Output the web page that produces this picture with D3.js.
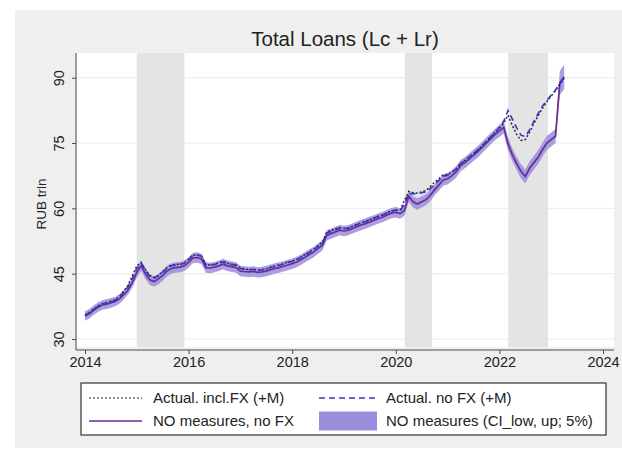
<!DOCTYPE html>
<html>
<head>
<meta charset="utf-8">
<script src="https://cdn.jsdelivr.net/npm/d3@7"></script>
<style>
	body { margin: 0; background: #fff; }
	svg { display: block; font-family: "Liberation Sans", Arial, sans-serif; }
</style>
</head>
<body>
<div id="chart"></div>
<script>
// monthly, 2014m1 .. 2023m4
var startYear = 2014;

var actualInclFX = [
	35.5, 36.1, 36.9, 37.6, 38.1, 38.4, 38.7, 39.0, 39.8, 41.0, 42.4, 44.6,
	46.8, 47.6, 46.0, 44.6, 44.1, 44.6, 45.5, 46.4, 47.0, 47.1, 47.2, 47.5,
	48.3, 49.3, 49.3, 49.0, 47.1, 47.0, 47.2, 47.5, 47.8, 47.4, 47.2, 47.0,
	46.3, 46.1, 45.9, 46.0, 45.8, 45.9, 46.1, 46.5, 46.8, 47.0, 47.3, 47.7,
	47.9, 48.3, 48.8, 49.4, 50.0, 50.6, 51.4, 52.2, 54.6, 54.9, 55.3, 55.6,
	55.4, 55.5, 55.9, 56.3, 56.7, 57.0, 57.4, 57.8, 58.2, 58.5, 59.0, 59.4,
	59.6, 59.6, 61.8, 63.9, 63.6, 63.5, 63.8, 64.1, 65.0, 66.0, 66.8, 67.7,
	67.8, 68.3, 69.1, 70.3, 71.0, 71.8, 72.6, 73.4, 74.4, 75.4, 76.4, 77.5,
	78.4, 79.5, 81.4, 79.0, 77.0, 75.6, 75.8, 77.5, 79.5, 81.3, 83.0, 84.5,
	85.8, 87.0, 88.5, 89.8
];

var actualNoFX = [
	35.5, 36.0, 36.8, 37.5, 38.0, 38.3, 38.6, 38.9, 39.6, 40.7, 42.0, 44.0,
	46.2, 47.4, 45.8, 44.4, 44.0, 44.5, 45.3, 46.2, 46.8, 47.0, 47.1, 47.4,
	48.2, 49.2, 49.3, 49.0, 47.0, 46.9, 47.1, 47.4, 47.7, 47.3, 47.1, 46.9,
	46.2, 46.0, 45.9, 46.0, 45.8, 45.9, 46.1, 46.4, 46.7, 46.9, 47.2, 47.6,
	47.8, 48.2, 48.7, 49.3, 49.9, 50.5, 51.3, 52.0, 54.3, 54.7, 55.1, 55.5,
	55.3, 55.5, 55.9, 56.3, 56.7, 57.0, 57.4, 57.8, 58.2, 58.5, 59.0, 59.4,
	59.6, 59.4, 61.0, 63.5, 63.3, 63.4, 63.6, 63.8, 64.5, 65.5, 66.4, 67.4,
	67.6, 68.2, 69.0, 70.3, 71.0, 71.8, 72.6, 73.4, 74.4, 75.4, 76.4, 77.4,
	78.6, 80.0, 82.5, 80.5, 78.5, 76.8, 76.5, 78.0, 80.0, 81.8, 83.5, 84.8,
	86.0, 87.2, 88.6, 90.0
];

var noMeasures = [
	35.3, 35.8, 36.6, 37.3, 37.8, 38.0, 38.3, 38.6, 39.2, 40.2, 41.3, 43.0,
	45.3, 46.8, 45.0, 43.6, 43.2, 43.8, 44.6, 45.6, 46.2, 46.4, 46.5, 46.8,
	47.6, 48.6, 48.7, 48.4, 46.4, 46.3, 46.5, 46.8, 47.2, 46.8, 46.6, 46.4,
	45.6, 45.5, 45.4, 45.5, 45.3, 45.4, 45.6, 45.9, 46.2, 46.4, 46.7, 47.0,
	47.3, 47.7, 48.2, 48.8, 49.4, 50.0, 50.8, 51.5, 53.8, 54.2, 54.6, 55.0,
	54.8, 55.0, 55.4, 55.8, 56.2, 56.5, 56.9, 57.3, 57.7, 58.0, 58.5, 58.9,
	59.1, 58.8, 59.5, 62.8, 61.5, 61.0, 61.5, 62.0, 63.0, 64.3, 65.4, 66.5,
	66.8, 67.5, 68.4, 69.8, 70.5, 71.3, 72.2, 73.0, 74.0, 75.0, 76.0, 77.0,
	77.8, 78.6, 74.8, 72.3, 70.3, 68.5, 67.3, 69.2, 70.5, 71.8, 73.5, 75.0,
	75.8, 76.6, 88.8, 90.2
];

var ciLow = [
	34.2, 34.7, 35.5, 36.2, 36.7, 36.9, 37.2, 37.5, 38.1, 39.1, 40.2, 41.9,
	44.1, 45.6, 43.8, 42.4, 42.0, 42.6, 43.4, 44.4, 45.0, 45.2, 45.3, 45.6,
	46.4, 47.4, 47.5, 47.2, 45.2, 45.1, 45.3, 45.6, 46.0, 45.6, 45.4, 45.2,
	44.4, 44.3, 44.2, 44.3, 44.1, 44.2, 44.4, 44.7, 45.0, 45.2, 45.5, 45.8,
	46.1, 46.5, 47.0, 47.6, 48.2, 48.8, 49.6, 50.3, 52.6, 53.0, 53.4, 53.8,
	53.6, 53.8, 54.2, 54.6, 55.0, 55.3, 55.7, 56.1, 56.5, 56.8, 57.3, 57.7,
	57.9, 57.6, 58.3, 61.5, 60.2, 59.7, 60.2, 60.7, 61.7, 63.0, 64.1, 65.2,
	65.5, 66.2, 67.1, 68.5, 69.2, 70.0, 70.9, 71.7, 72.7, 73.7, 74.7, 75.7,
	76.4, 77.2, 73.3, 70.8, 68.8, 66.9, 65.7, 67.6, 68.9, 70.2, 71.9, 73.4,
	74.2, 75.0, 86.0, 87.4
];

var ciHigh = [
	36.4, 36.9, 37.7, 38.4, 38.9, 39.1, 39.4, 39.7, 40.3, 41.3, 42.4, 44.1,
	46.5, 48.0, 46.2, 44.8, 44.4, 45.0, 45.8, 46.8, 47.4, 47.6, 47.7, 48.0,
	48.8, 49.8, 49.9, 49.6, 47.6, 47.5, 47.7, 48.0, 48.4, 48.0, 47.8, 47.6,
	46.8, 46.7, 46.6, 46.7, 46.5, 46.6, 46.8, 47.1, 47.4, 47.6, 47.9, 48.2,
	48.5, 48.9, 49.4, 50.0, 50.6, 51.2, 52.0, 52.7, 55.0, 55.4, 55.8, 56.2,
	56.0, 56.2, 56.6, 57.0, 57.4, 57.7, 58.1, 58.5, 58.9, 59.2, 59.7, 60.1,
	60.3, 60.0, 60.7, 64.1, 62.8, 62.3, 62.8, 63.3, 64.3, 65.6, 66.7, 67.8,
	68.1, 68.8, 69.7, 71.1, 71.8, 72.6, 73.5, 74.3, 75.3, 76.3, 77.3, 78.3,
	79.2, 80.0, 76.3, 73.8, 71.8, 70.1, 68.9, 70.8, 72.1, 73.4, 75.1, 76.6,
	77.4, 78.2, 91.6, 93.0
];

// shaded periods (start, end in years)
var shadeStart = [2015.0, 2020.17, 2022.17];
var shadeEnd = [2015.92, 2020.7, 2022.94];

var xTicks = [2014, 2016, 2018, 2020, 2022, 2024];
var yTicks = [30, 45, 60, 75, 90];

var legendLabels = ["Actual. incl.FX (+M)", "Actual. no FX (+M)", "NO measures, no FX", "NO measures (CI_low, up; 5%)"];

var width = 622, height = 452;
var plot = {left: 77, right: 614, top: 53, bottom: 347};

var svg = d3.select("#chart").append("svg")
	.attr("width", width)
	.attr("height", height);

// outer gray background
svg.append("rect")
	.attr("x", 15).attr("y", 10)
	.attr("width", 607).attr("height", 438)
	.attr("fill", "#efefef");

svg.append("rect")
	.attr("x", plot.left).attr("y", plot.top)
	.attr("width", plot.right - plot.left).attr("height", plot.bottom - plot.top)
	.attr("fill", "#fff");

var x = d3.scaleLinear().domain([2014, 2024]).range([85, 603]);
var y = d3.scaleLinear().domain([30, 90]).range([339, 77.7]);

var rows = noMeasures.map(function(v, i) {
	return {
		t: startYear + i / 12,
		fx: actualInclFX[i],
		nofx: actualNoFX[i],
		nm: v,
		lo: ciLow[i],
		hi: ciHigh[i]
	};
});

// grid
svg.append("g")
	.selectAll("line")
	.data(yTicks)
	.enter().append("line")
	.attr("x1", plot.left).attr("x2", plot.right)
	.attr("y1", d => y(d)).attr("y2", d => y(d))
	.attr("stroke", "#ebebeb")
	.attr("stroke-width", 1);

// recession-like shading
svg.append("g")
	.selectAll("rect")
	.data(shadeStart)
	.enter().append("rect")
	.attr("x", d => x(d))
	.attr("width", (d, i) => x(shadeEnd[i]) - x(d))
	.attr("y", plot.top)
	.attr("height", plot.bottom - plot.top)
	.attr("fill", "#e4e4e4");

// CI band
var area = d3.area()
	.x(d => x(d.t))
	.y0(d => y(d.lo))
	.y1(d => y(d.hi));

svg.append("path")
	.datum(rows)
	.attr("d", area)
	.attr("fill", "#998fdc")
	.attr("fill-opacity", 0.85);

function lineOf(key) {
	return d3.line().x(d => x(d.t)).y(d => y(d[key]));
}

svg.append("path")
	.datum(rows)
	.attr("d", lineOf("nm"))
	.attr("fill", "none")
	.attr("stroke", "#6f2a96")
	.attr("stroke-width", 1.7);

svg.append("path")
	.datum(rows)
	.attr("d", lineOf("fx"))
	.attr("fill", "none")
	.attr("stroke", "#1e1e2e")
	.attr("stroke-width", 1.4)
	.attr("stroke-dasharray", "2,2");

svg.append("path")
	.datum(rows)
	.attr("d", lineOf("nofx"))
	.attr("fill", "none")
	.attr("stroke", "#3535c8")
	.attr("stroke-width", 1.6)
	.attr("stroke-dasharray", "6,4");

// axes, restyled to look like stata
var axisColor = "#4a4a4a";

var yAxis = d3.axisLeft(y).tickValues(yTicks).tickSize(4).tickPadding(6);
var gy = svg.append("g")
	.attr("transform", "translate(76,0)")
	.call(yAxis);
gy.select(".domain").attr("d", "M0," + plot.top + "V350").attr("stroke", axisColor);
gy.selectAll(".tick line").attr("stroke", axisColor);
gy.selectAll(".tick text")
	.attr("font-size", 14.5)
	.attr("fill", "#222")
	.attr("text-anchor", "middle")
	.attr("x", 0).attr("dy", 0)
	.attr("transform", "translate(-12,0) rotate(-90)");

var xAxis = d3.axisBottom(x).tickValues(xTicks).tickFormat(d3.format("d")).tickSize(4).tickPadding(3);
var gx = svg.append("g")
	.attr("transform", "translate(0,350)")
	.call(xAxis);
gx.select(".domain").attr("d", "M76,0H614").attr("stroke", axisColor);
gx.selectAll(".tick line").attr("stroke", axisColor);
gx.selectAll(".tick text")
	.attr("font-size", 14.5)
	.attr("fill", "#222");

// title and y label
svg.append("text")
	.attr("x", 345).attr("y", 46)
	.attr("text-anchor", "middle")
	.attr("font-size", 20.5)
	.attr("fill", "#222")
	.text("Total Loans (Lc + Lr)");

svg.append("text")
	.attr("transform", "translate(46,204) rotate(-90)")
	.attr("text-anchor", "middle")
	.attr("font-size", 13.5)
	.attr("fill", "#222")
	.text("RUB trln");

// legend
var lg = svg.append("g");
lg.append("rect")
	.attr("x", 81).attr("y", 383)
	.attr("width", 525).attr("height", 52)
	.attr("fill", "#fff")
	.attr("stroke", "#333")
	.attr("stroke-width", 1.2);

var legendItems = [
	{sx: 89, tx: 153, cy: 398, kind: "dot"},
	{sx: 319, tx: 386, cy: 398, kind: "dash"},
	{sx: 89, tx: 153, cy: 421, kind: "solid"},
	{sx: 319, tx: 386, cy: 421, kind: "band"}
];

legendItems.forEach(function(it, i) {
	if (it.kind == "band") {
		lg.append("rect")
			.attr("x", it.sx).attr("y", it.cy - 9.5)
			.attr("width", 58).attr("height", 19)
			.attr("fill", "#998fdc");
	} else {
		var len = it.kind == "dash" ? 58 : 53;
		lg.append("line")
			.attr("x1", it.sx).attr("x2", it.sx + len)
			.attr("y1", it.cy).attr("y2", it.cy)
			.attr("stroke", it.kind == "dot" ? "#1e1e2e" : it.kind == "dash" ? "#3535c8" : "#6f2a96")
			.attr("stroke-width", it.kind == "dot" ? 1.2 : 1.5)
			.attr("stroke-dasharray", it.kind == "dot" ? "2,2" : it.kind == "dash" ? "6,4" : null);
	}
	lg.append("text")
		.attr("x", it.tx).attr("y", it.cy + 5)
		.attr("font-size", 15)
		.attr("fill", "#222")
		.text(legendLabels[i]);
});
</script>
</body>
</html>
